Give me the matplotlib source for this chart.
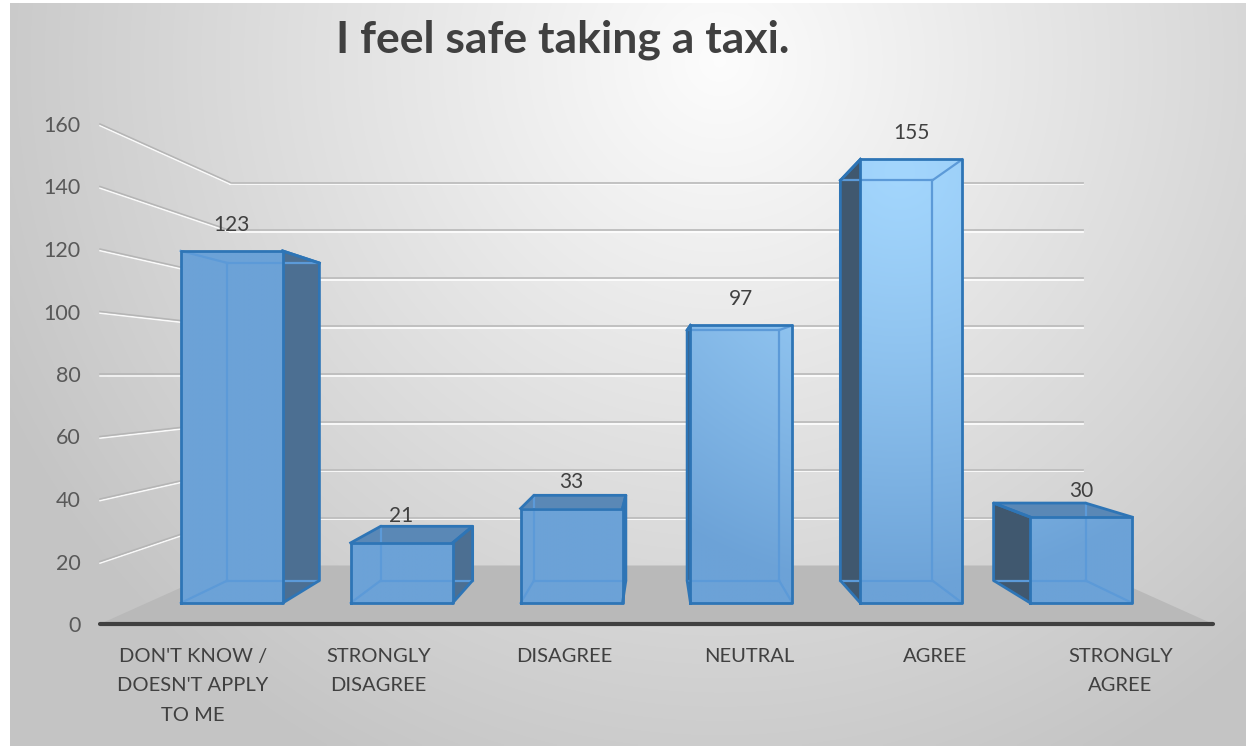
import matplotlib
matplotlib.use("Agg")
import matplotlib.pyplot as plt
import matplotlib.patheffects as pe
from matplotlib.patches import Polygon
import numpy as np

categories = ["DON'T KNOW /\nDOESN'T APPLY\nTO ME", "STRONGLY\nDISAGREE", "DISAGREE",
              "NEUTRAL", "AGREE", "STRONGLY\nAGREE"]
values = [123, 21, 33, 97, 155, 30]
yticks = [0, 20, 40, 60, 80, 100, 120, 140, 160]
title = "I feel safe taking a taxi."

plt.rcParams['font.family'] = ['Lato', 'DejaVu Sans']

# fake 3d: vanishing point and depth scales of the planes
VX, VY = 2.5, 80.0
S_BAR_F, S_BAR_B, S_WALL = 0.916, 0.826, 0.766
HALF = 0.3
XMIN, XMAX, YMAX = -0.5, 5.5, 160


def proj(x, v, s):
    return (VX + (x - VX) * s, VY + (v - VY) * s)


fig = plt.figure(figsize=(12.48, 7.46), dpi=100, facecolor='white')

# background gradient
bg = fig.add_axes([10 / 1248, 0, 1236 / 1248, 743 / 746])
gx, gy = np.meshgrid(np.linspace(10, 1246, 400), np.linspace(3, 746, 240))
d = np.hypot(gx - 720, gy - 60)
t = np.clip(d / 800, 0, 1)
g = 0.99 - 0.22 * t
bg.imshow(np.dstack([g, g, g]), aspect='auto', extent=[0, 1, 0, 1], interpolation='bilinear')
bg.set_axis_off()

ax = fig.add_axes([100 / 1248, (746 - 624) / 746, 1113 / 1248, 500 / 746])
ax.set_facecolor('none')
ax.set_xlim(XMIN, XMAX)
ax.set_ylim(0, YMAX)
for sp in ax.spines.values():
    sp.set_visible(False)

grid_fx = [pe.SimpleLineShadow(offset=(0, -1.2), shadow_color='white', alpha=0.9, rho=1), pe.Normal()]

# floor
floor = [proj(XMIN, 0, 1), proj(XMAX, 0, 1), proj(XMAX, 0, S_WALL), proj(XMIN, 0, S_WALL)]
ax.add_patch(Polygon(floor, closed=True, facecolor='#b9b9b9', edgecolor='none', zorder=1, clip_on=False))

# gridlines on back wall and left wall
for v in yticks[1:]:
    a = proj(XMIN, v, S_WALL)
    b = proj(XMAX, v, S_WALL)
    ax.plot([a[0], b[0]], [a[1], b[1]], color='#bdbdbd', lw=1.3, zorder=0.5,
            path_effects=grid_fx, clip_on=False)
    f = proj(XMIN, v, 1)
    ax.plot([f[0], a[0]], [f[1], a[1]], color='#b5b5b5', lw=1.1, zorder=0.5,
            path_effects=grid_fx, clip_on=False)

# front axis line
ax.plot([XMIN, XMAX], [0, 0], color='#404040', lw=3, zorder=2, clip_on=False, solid_capstyle='round')

# gradient for the bar fronts
hx, hv = 3.81, 145.0
ix, iv = np.meshgrid(np.linspace(XMIN, XMAX, 600), np.linspace(0, YMAX, 400))
dd = np.hypot((ix - hx) * 185.5, (iv - hv) * 3.125)
tt = np.clip(dd / 420, 0, 1) ** 1.2
light = np.array([163, 214, 253]) / 255
base = np.array([108, 162, 215]) / 255
bar_img = light[None, None, :] * (1 - tt[..., None]) + base[None, None, :] * tt[..., None]

edge = '#2e75b6'
inner = '#5c9ad8'

for i, h in enumerate(values):
    x0, x1 = i - HALF, i + HALF
    F = lambda x, v: proj(x, v, S_BAR_F)
    B = lambda x, v: proj(x, v, S_BAR_B)
    front = [F(x0, 0), F(x1, 0), F(x1, h), F(x0, h)]
    xs = x1 if i < VX else x0
    side = [F(xs, 0), B(xs, 0), B(xs, h), F(xs, h)]
    ax.add_patch(Polygon(side, closed=True, facecolor='#40586f' if i > VX else '#4c6f92',
                         edgecolor='none', zorder=3))
    if h < VY:
        top = [F(x0, h), F(x1, h), B(x1, h), B(x0, h)]
        ax.add_patch(Polygon(top, closed=True, facecolor='#5a88b6', edgecolor='none', zorder=3))
    fp = Polygon(front, closed=True, facecolor='none', edgecolor='none', zorder=4)
    ax.add_patch(fp)
    im = ax.imshow(bar_img, extent=[XMIN, XMAX, 0, YMAX], origin='lower', aspect='auto', zorder=4)
    im.set_clip_path(fp)

    # hidden edges
    xo = x0 if i < VX else x1
    hidden = [
        [B(x0, 0), B(x1, 0)],
        [B(xo, 0), B(xo, h)],
        [F(xo, 0), B(xo, 0)],
    ]
    if h >= VY:
        hidden += [[B(x0, h), B(x1, h)], [F(xo, h), B(xo, h)]]
    for seg in hidden:
        ax.plot([seg[0][0], seg[1][0]], [seg[0][1], seg[1][1]], color=inner, lw=1.6, zorder=5)

    # visible edges
    vis = [front + [front[0]], [F(xs, 0), B(xs, 0), B(xs, h), F(xs, h)]]
    if h < VY:
        vis.append([F(x0, h), B(x0, h), B(x1, h), F(x1, h)])
    else:
        vis.append([F(xs, h), B(xs, h)])
    for pts in vis:
        ax.plot([p[0] for p in pts], [p[1] for p in pts], color=edge, lw=2, zorder=6,
                solid_joinstyle='round')

    lx, ly = F(i, h)
    ax.annotate(str(h), (lx, ly), xytext=(0, 19), textcoords='offset points',
                ha='center', va='center', fontsize=15, color='#404040', zorder=7)

ax.set_xticks(range(len(categories)))
ax.set_xticklabels(categories, fontsize=14.5, color='#404040', linespacing=1.9)
ax.set_yticks(yticks)
ax.set_yticklabels([str(v) for v in yticks], fontsize=15.5, color='#595959')
ax.tick_params(axis='both', length=0)
ax.tick_params(axis='x', pad=17)
ax.tick_params(axis='y', pad=14)

fig.text(563 / 1248, 1 - 40 / 746, title, ha='center', va='center', fontsize=32,
         fontweight='bold', color='#404040')

fig.savefig('out.png', dpi=100, facecolor=fig.get_facecolor())
